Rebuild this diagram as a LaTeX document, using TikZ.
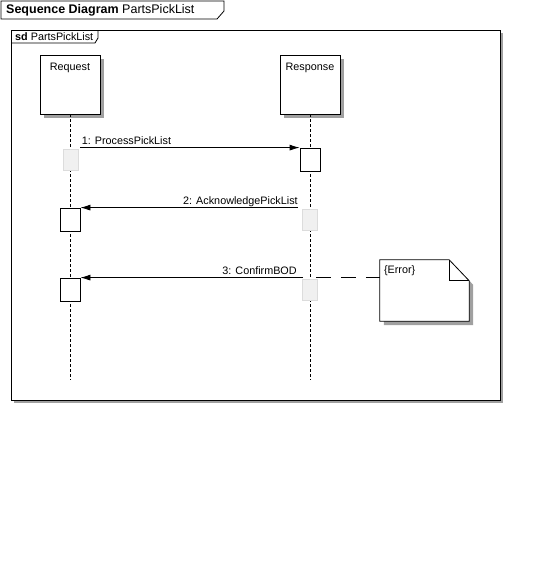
\documentclass[tikz,border=0pt]{standalone}
\usepackage{fontspec}
\setmainfont{Liberation Sans}
\usetikzlibrary{arrows.meta,positioning,shadows}
\definecolor{ShadowGrey}{HTML}{A0A0A0}
\definecolor{GhostFill}{HTML}{F0F0F0}
\definecolor{GhostLine}{HTML}{DCDCDC}
\tikzset{
	boxshadow/.style={drop shadow={shadow xshift=4pt,shadow yshift=-4pt,fill=ShadowGrey,opacity=1}},
	lifehead/.style={draw,fill=white,line width=0.8pt,minimum width=60pt,minimum height=59pt,inner sep=0pt,boxshadow},
	lifeline/.style={line width=0.8pt,dash pattern=on 3pt off 2pt},
	activation/.style={draw,fill=white,line width=0.8pt,minimum width=20pt,minimum height=23pt,inner sep=0pt},
	ghost/.style={draw=GhostLine,fill=GhostFill,line width=0.8pt,minimum width=15pt,minimum height=21pt,inner sep=0pt},
	msg/.style={line width=0.8pt,-{Latex[length=10pt,width=6pt]}},
	msglabel/.style={inner sep=0pt,font=\fontsize{10.8}{12}\selectfont},
	notelink/.style={line width=0.8pt,dash pattern=on 15pt off 10pt},
}

\begin{document}
\begin{tikzpicture}[x=1pt,y=-1pt,font=\fontsize{10.8}{12}\selectfont]
	\def\reqx{70}   % Request lifeline
	\def\resx{310}  % Response lifeline
	\def\lifeend{380}
	\useasboundingbox (0,0) rectangle (541,574);
	
	% title tab
	\draw[line width=0.8pt,fill=white] (1,19) -- (1,1) -- (224,1) -- (224,11) -- (217,19) -- cycle;
	\node[anchor=west,inner sep=0pt,font=\fontsize{12.5}{15}\selectfont] (title) at (6,10) {\textbf{Sequence Diagram} PartsPickList};
	
	% frame
	\draw[line width=0.8pt,fill=white,drop shadow={shadow xshift=3pt,shadow yshift=-3pt,fill=ShadowGrey,opacity=1}] (11,30) rectangle (500,400);
	\draw[line width=0.8pt] (11,43) -- (95,43) -- (98,38) -- (98,30);
	\node[anchor=west,inner sep=0pt] (sdname) at (15,37) {\textbf{sd} PartsPickList};
	
	% lifelines
	\node[lifehead] (request) at (\reqx,84.5) {};
	\node[lifehead] (response) at (\resx,84.5) {};
	\node[msglabel,below=8pt of request.north] (requestname) {Request};
	\node[msglabel,below=8pt of response.north] (responsename) {Response};
	\coordinate (requestend) at (\reqx,\lifeend);
	\coordinate (responseend) at (\resx,\lifeend);
	\draw[lifeline] (request.south) -- (requestend);
	\draw[lifeline] (response.south) -- (responseend);
	
	% activations
	\node[ghost] (ghostA) at (\reqx+0.5,159.5) {};
	\node[activation] (actA) at (\resx,159.5) {};
	\node[ghost] (ghostB) at (\resx,219.5) {};
	\node[activation] (actB) at (\reqx,219.5) {};
	\node[ghost] (ghostC) at (\resx,289.5) {};
	\node[activation] (actC) at (\reqx,289.5) {};
	
	% messages
	\draw[msg] ([xshift=2pt]ghostA.east |- actA.north) -- (actA.north west)
		node[msglabel,at start,anchor=base west,xshift=1pt,yshift=3pt] {1: ProcessPickList};
	\draw[msg] ([xshift=-4pt]ghostB.west |- actB.north) -- (actB.north east)
		node[msglabel,at start,anchor=base east,yshift=3pt] {2: AcknowledgePickList};
	\draw[msg] ([xshift=1pt]ghostC.west |- actC.north) -- (actC.north east)
		node[msglabel,at start,anchor=base east,xshift=-6pt,yshift=3pt] {3: ConfirmBOD};
	
	% note
	\node[minimum width=89pt,minimum height=61pt,inner sep=0pt] (errnote) at (424.5,290.5) {};
	\draw[line width=0.8pt,fill=white,boxshadow] (errnote.north west) -- ([xshift=-20pt]errnote.north east)
		-- ([yshift=-21pt]errnote.north east) -- (errnote.south east) -- (errnote.south west) -- cycle;
	\draw[line width=0.8pt] ([xshift=-20pt]errnote.north east) -- ([xshift=-20pt,yshift=-21pt]errnote.north east)
		-- ([yshift=-21pt]errnote.north east);
	\node[msglabel,below right=6pt and 4pt of errnote.north west] (errtext) {\{Error\}};
	\draw[notelink] ([xshift=-2pt]ghostC.east |- actC.north) -- (errnote.west |- actC.north);
\end{tikzpicture}
\end{document}
